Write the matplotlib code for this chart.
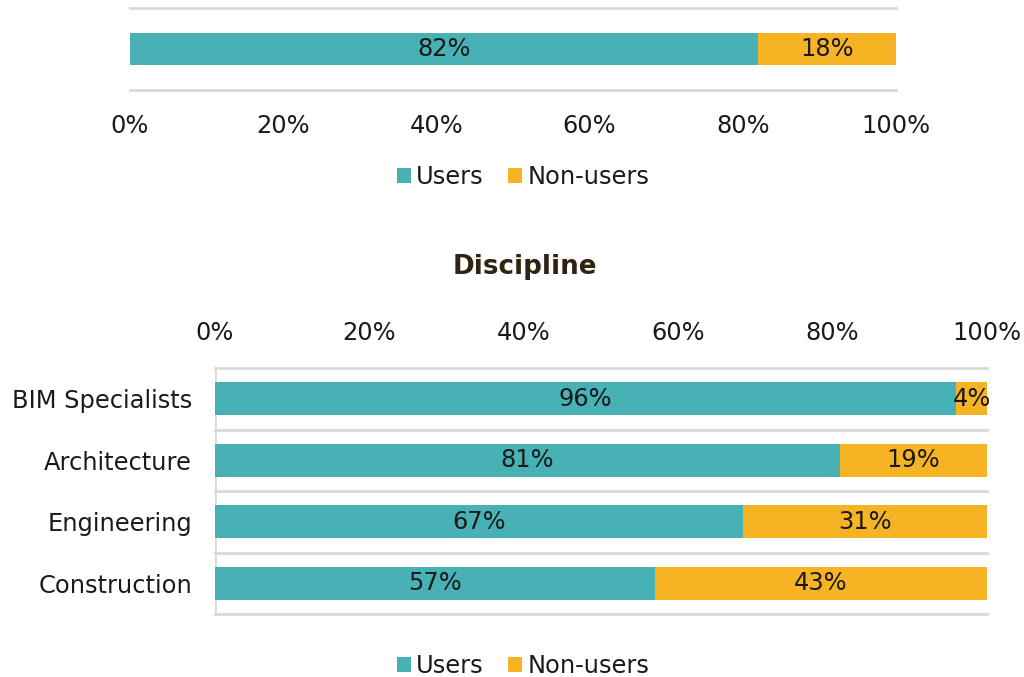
import matplotlib
matplotlib.use("Agg")
import matplotlib.pyplot as plt
from matplotlib.patches import Patch
import numpy as np

# ---- data ----
overall_users = [82]
overall_nonusers = [18]

disciplines = ["BIM Specialists", "Architecture", "Engineering", "Construction"]
disc_users = [96, 81, 67, 57]
disc_nonusers = [4, 19, 31, 43]

xtick_vals = [0, 20, 40, 60, 80, 100]
xtick_labels = ["0%", "20%", "40%", "60%", "80%", "100%"]
series_names = ["Users", "Non-users"]

# ---- style ----
TEAL = "#47B1B5"
GOLD = "#F6B324"
GRID = "#D9D9D9"
TXT = "#1A1A1A"
FS = 17.4
plt.rcParams["font.family"] = ["DejaVu Sans"]

W, H = 1024, 677
fig = plt.figure(figsize=(W / 100, H / 100), dpi=100)


def px_axes(x0, y0, x1, y1):
    return fig.add_axes([x0 / W, 1 - y1 / H, (x1 - x0) / W, (y1 - y0) / H])


def stacked(ax, users, nonusers, height):
    u = np.array(users, float)
    n = np.array(nonusers, float)
    tot = u + n
    us = u / tot * 100
    ns = n / tot * 100
    y = np.arange(len(u))
    ax.barh(y, us, height=height, color=TEAL, zorder=3)
    ax.barh(y, ns, left=us, height=height, color=GOLD, zorder=3)
    for i in range(len(u)):
        ax.text(us[i] / 2, y[i], f"{int(u[i])}%", ha="center", va="center",
                fontsize=FS, color=TXT, zorder=4)
        ax.text(us[i] + ns[i] / 2, y[i], f"{int(n[i])}%", ha="center", va="center",
                fontsize=FS, color=TXT, zorder=4)
    ax.set_xlim(0, 100)
    ax.set_ylim(len(u) - 0.5, -0.5)
    for b in np.arange(len(u) + 1) - 0.5:
        ax.axhline(b, color=GRID, lw=2, zorder=1, clip_on=False)
    for s in ax.spines.values():
        s.set_visible(False)
    ax.set_xticks(xtick_vals)
    ax.set_xticklabels(xtick_labels)
    ax.tick_params(axis="x", length=0, labelsize=FS, colors=TXT)


# ---- top chart ----
ax1 = px_axes(130, 8, 896, 90)
stacked(ax1, overall_users, overall_nonusers, height=0.39)
ax1.set_yticks([])
ax1.tick_params(axis="x", pad=17.5)

# ---- bottom chart ----
ax2 = px_axes(215, 368, 987, 614)
stacked(ax2, disc_users, disc_nonusers, height=0.54)
ax2.set_yticks(range(len(disciplines)))
ax2.set_yticklabels(disciplines, va="center_baseline")
ax2.tick_params(axis="y", length=0, labelsize=FS, colors=TXT, pad=16.5)
ax2.xaxis.tick_top()
ax2.tick_params(axis="x", pad=16.5)
ax2.axvline(0, color=GRID, lw=2, zorder=1)

fig.text(525 / W, 1 - 267 / H, "Discipline", ha="center", va="center",
         fontsize=18.8, fontweight="bold", color="#31230F")

# ---- legends ----
handles = [Patch(facecolor=TEAL, edgecolor="none"), Patch(facecolor=GOLD, edgecolor="none")]
for yc in (177, 666):
    fig.legend(handles, series_names, loc="center", bbox_to_anchor=(523 / W, 1 - yc / H),
               ncol=2, frameon=False, fontsize=FS, handlelength=0.6, handleheight=0.6,
               handletextpad=0.2, columnspacing=1.0, labelcolor=TXT)

fig.savefig("out.png", dpi=100)
